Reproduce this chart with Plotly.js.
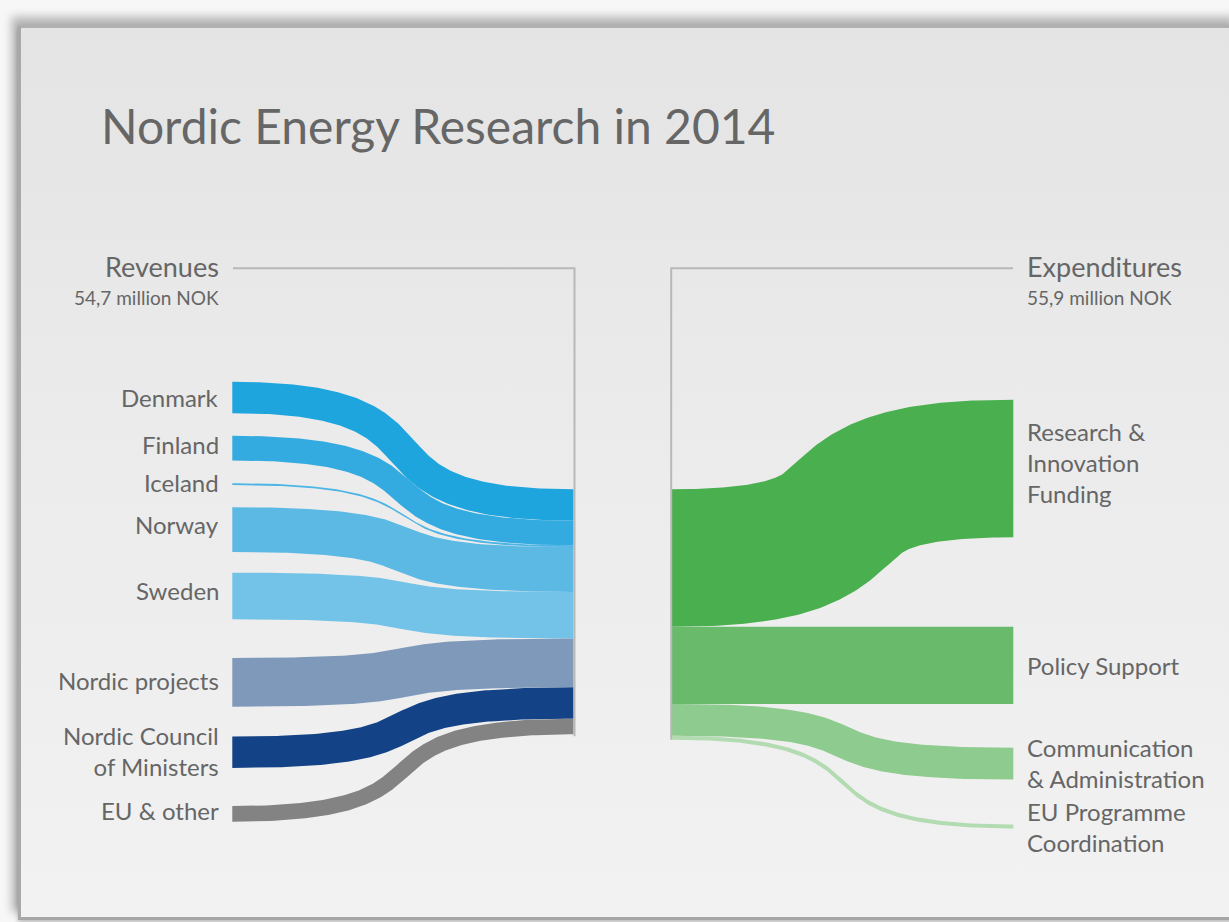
<!DOCTYPE html>
<html>
<head>
<meta charset="utf-8">
<script src="https://cdn.plot.ly/plotly-3.0.1.min.js"></script>
<style>
  html, body { margin: 0; padding: 0; background: #f7f7f7; width: 1229px; height: 922px; overflow: hidden; }
  #panel {
    position: absolute; left: 18px; top: 25px; width: 1220px; height: 889px;
    background: linear-gradient(to bottom, #e4e4e4 0%, #ebebeb 45%, #f2f2f2 100%);
    border-top: 3px solid #b0b0b0; border-left: 3px solid #a9a9a9; border-bottom: 3px solid #a6a6a6;
    box-shadow: -6px -8px 9px rgba(0,0,0,0.28), 0 3px 5px rgba(0,0,0,0.22);
  }
  #chart { position: absolute; left: 0; top: 0; width: 1229px; height: 922px; z-index: 2; }
</style>
</head>
<body>
<div id="panel"></div>
<div id="chart"></div>
<script>
// ---------------- DATA ----------------
const revenueNames  = ['Denmark', 'Finland', 'Iceland', 'Norway', 'Sweden', 'Nordic projects', 'Nordic Council<br>of Ministers', 'EU &amp; other'];
const revenueValues = [7.0, 5.5, 0.4, 10.0, 10.4, 10.9, 7.0, 3.5];           // million NOK
const revenueColors = ['#1ea5de', '#33abe0', '#4db5e5', '#5cb9e3', '#72c3e7', '#7f99ba', '#134386', '#838383'];

const expenditureNames  = ['Research &amp;<br>Innovation<br>Funding', 'Policy Support', 'Communication<br>&amp; Administration', 'EU Programme<br>Coordination'];
const expenditureValues = [30.7, 17.2, 7.1, 0.9];                            // million NOK
const expenditureColors = ['#4aaf4f', '#69ba6b', '#8ecb8e', '#b3dbb2'];

const titleText = 'Nordic Energy Research in 2014';
const revenueHeader = 'Revenues', revenueTotal = '54,7 million NOK';
const expenditureHeader = 'Expenditures', expenditureTotal = '55,9 million NOK';

// ---------------- LAYOUT (positions, not data) ----------------
const PX = 4.48;            // pixels per million NOK
const STACK_TOP = 489.3;    // pixel row where both stacks start
const W = 1229, H = 922;
const LEFT_X0 = 232.3, LEFT_X1 = 573.5, RIGHT_X0 = 671.7, RIGHT_X1 = 1013.3;
const CURVE_K = 0.72;       // bezier control-point reach (fraction of link length)
// node tops (million-NOK units, relative to stack top)
const revenueNodeTop = [-24.0, -11.95, -1.35, 4.0, 18.6, 37.65, 55.2, 70.7];
const expenditureNodeTop = [-20.0, 30.7, 57.7, 74.8];
// label nudges in px
const revenueLabelDy = [0, -4, -2, -5, -5, -2, -1, -3];
const expenditureLabelDy = [-6, 0, -1, 1];
const FONT = 'Lato, "Liberation Sans", Arial, sans-serif';
const TXT = '#666666';

const pxY = p => (p - STACK_TOP) / PX;

// band polygon: centreline cubic bezier, edges offset by half thickness
function band(x0, y0, x1, y1, v) {
  const Y0 = y0 * PX, Y1 = y1 * PX, w = v * PX;
  const c1 = x0 + CURVE_K * (x1 - x0), c2 = x1 - CURVE_K * (x1 - x0);
  const N = 160, A = [], B = [];
  for (let i = 0; i <= N; i++) {
    const t = i / N, u = 1 - t;
    const px = u*u*u*x0 + 3*u*u*t*c1 + 3*u*t*t*c2 + t*t*t*x1;
    const py = u*u*u*Y0 + 3*u*u*t*Y0 + 3*u*t*t*Y1 + t*t*t*Y1;
    const dx = 3*u*u*(c1 - x0) + 6*u*t*(c2 - c1) + 3*t*t*(x1 - c2);
    const dy = 6*u*t*(Y1 - Y0);
    const L = Math.hypot(dx, dy) || 1;
    const nx = -dy / L, ny = dx / L;
    A.push([px + nx*w/2, py + ny*w/2]);
    B.push([px - nx*w/2, py - ny*w/2]);
  }
  const pts = A.concat(B.reverse());
  pts.push(pts[0]);
  return { x: pts.map(p => p[0]), y: pts.map(p => p[1] / PX) };
}

const traces = [];
const annotations = [];

function addLabel(text, x, yCenterPx, anchor, size) {
  annotations.push({ text: text, x: x, y: pxY(yCenterPx), xref: 'x', yref: 'y', xanchor: anchor, yanchor: 'middle',
    align: anchor, borderpad: 0, showarrow: false, font: { family: FONT, size: size, color: TXT } });
}

// revenues (left)
let cum = 0;
revenueValues.forEach((v, i) => {
  const src = revenueNodeTop[i] + v / 2, dst = cum + v / 2;
  const b = band(LEFT_X0, src, LEFT_X1, dst, v);
  traces.push({ type: 'scatter', mode: 'lines', x: b.x, y: b.y, fill: 'toself', fillcolor: revenueColors[i],
    line: { width: 0, color: revenueColors[i] }, hoverinfo: 'skip', name: revenueNames[i] });
  addLabel(revenueNames[i], 220, STACK_TOP + src * PX + revenueLabelDy[i], 'right', 24);
  cum += v;
});
const revTotal = cum;

// expenditures (right)
cum = 0;
expenditureValues.forEach((v, i) => {
  const src = cum + v / 2, dst = expenditureNodeTop[i] + v / 2;
  const b = band(RIGHT_X0, src, RIGHT_X1, dst, v);
  traces.push({ type: 'scatter', mode: 'lines', x: b.x, y: b.y, fill: 'toself', fillcolor: expenditureColors[i],
    line: { width: 0, color: expenditureColors[i] }, hoverinfo: 'skip', name: expenditureNames[i] });
  addLabel(expenditureNames[i], 1025.5, STACK_TOP + dst * PX + expenditureLabelDy[i], 'left', 24);
  cum += v;
});
const expTotal = cum;

// bracket lines
const HEADER_Y = pxY(268.3);
traces.push({ type: 'scatter', mode: 'lines', x: [233, LEFT_X1 + 1, LEFT_X1 + 1], y: [HEADER_Y, HEADER_Y, revTotal + 0.4],
  line: { color: '#b8b8b8', width: 2 }, hoverinfo: 'skip' });
traces.push({ type: 'scatter', mode: 'lines', x: [1013, RIGHT_X0 - 0.5, RIGHT_X0 - 0.5], y: [HEADER_Y, HEADER_Y, expTotal],
  line: { color: '#b8b8b8', width: 2 }, hoverinfo: 'skip' });

// headers
annotations.push({ text: revenueHeader, x: 221, y: pxY(266.5), xref: 'x', yref: 'y', xanchor: 'right', yanchor: 'middle', showarrow: false, font: { family: FONT, size: 27, color: TXT } });
annotations.push({ text: revenueTotal, x: 221, y: pxY(297.5), xref: 'x', yref: 'y', xanchor: 'right', yanchor: 'middle', showarrow: false, font: { family: FONT, size: 19, color: TXT } });
annotations.push({ text: expenditureHeader, x: 1024.5, y: pxY(266.5), xref: 'x', yref: 'y', xanchor: 'left', yanchor: 'middle', showarrow: false, font: { family: FONT, size: 27, color: TXT } });
annotations.push({ text: expenditureTotal, x: 1024.5, y: pxY(297.5), xref: 'x', yref: 'y', xanchor: 'left', yanchor: 'middle', showarrow: false, font: { family: FONT, size: 19, color: TXT } });

const layout = {
  width: W, height: H,
  margin: { l: 0, r: 0, t: 0, b: 0, pad: 0 },
  paper_bgcolor: 'rgba(0,0,0,0)', plot_bgcolor: 'rgba(0,0,0,0)',
  showlegend: false,
  title: { text: titleText, x: 101 / W, xanchor: 'left', xref: 'paper', y: 1 - 127 / H, yanchor: 'middle', yref: 'paper',
    font: { family: FONT, size: 48, color: TXT } },
  xaxis: { range: [0, W], visible: false, fixedrange: true },
  yaxis: { range: [(H - STACK_TOP) / PX, -STACK_TOP / PX], visible: false, fixedrange: true },
  annotations: annotations
};

Plotly.newPlot('chart', traces, layout, { staticPlot: true, displayModeBar: false });
</script>
</body>
</html>
